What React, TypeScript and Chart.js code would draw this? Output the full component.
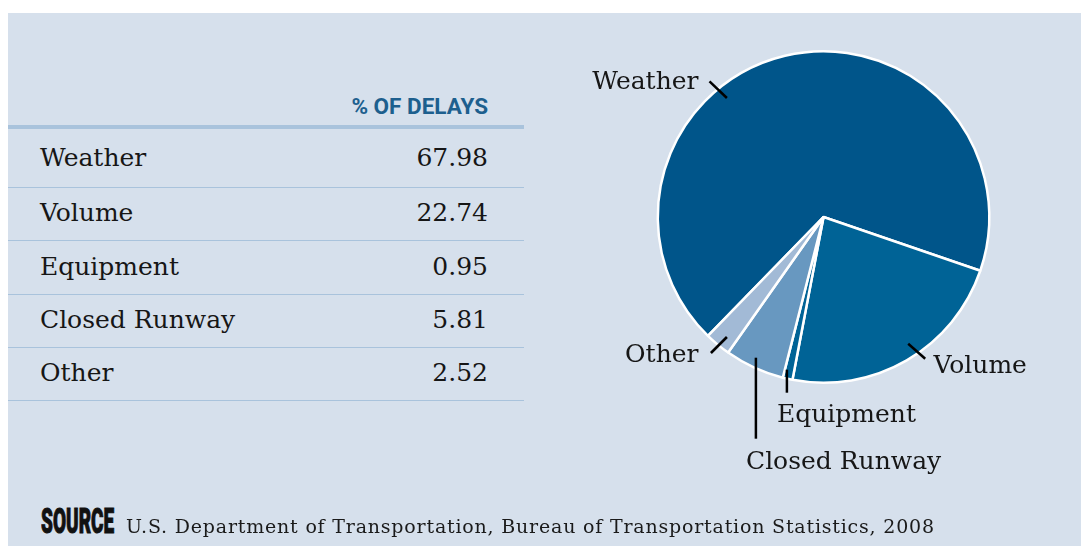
import React, { useEffect, useRef } from "react";
import { Chart, registerables } from "chart.js";

Chart.register(...registerables);

// ---------- data ----------
const categories = ["Weather", "Volume", "Equipment", "Closed Runway", "Other"];
const delayShares = [67.98, 22.74, 0.95, 5.81, 2.52];
const valueLabels = ["67.98", "22.74", "0.95", "5.81", "2.52"];
const sliceColors = ["#00558a", "#006396", "#006396", "#6898c0", "#a2bad6"];
const headerLabel = "% OF DELAYS";
const sourceLabel = "SOURCE";
const sourceText =
  "U.S. Department of Transportation, Bureau of Transportation Statistics, 2008";

// ---------- layout / style ----------
const BG = "#d6e0ec";
const RULE = "#a9c3dc";
const SERIF = '"DejaVu Serif", serif';
const rowCenters = [157.5, 212.5, 266.5, 319.5, 372.5];
const rowRules = [187, 240, 294, 347, 400];

// label placement relative to pie centre, in px for a radius of 167
const labelLayout = [
  { tx: -125, ty: -137, align: "right", line: [-114, -135.6, -96.6, -119] },
  { tx: 110, ty: 147, align: "left", line: [84.7, 126.7, 101.7, 141.7] },
  { tx: -46.5, ty: 196, align: "left", line: [-36.6, 152.7, -36.6, 175.7] },
  { tx: -77.5, ty: 243, align: "left", line: [-67.6, 140.7, -67.6, 221.7] },
  { tx: -125, ty: 136, align: "right", line: [-112.6, 136, -96.6, 120] },
];

const calloutPlugin = {
  id: "callouts",
  afterDraw(chart: any) {
    const meta = chart.getDatasetMeta(0);
    const arc = meta.data[0];
    if (!arc) return;
    const cx = arc.x;
    const cy = arc.y;
    const k = (arc.outerRadius + 1.25) / 167;
    const ctx = chart.ctx;
    ctx.save();
    ctx.strokeStyle = "#000";
    ctx.lineWidth = 2.5;
    ctx.fillStyle = "#161616";
    ctx.font = `25px ${SERIF}`;
    ctx.textBaseline = "alphabetic";
    labelLayout.forEach((l, i) => {
      const [x1, y1, x2, y2] = l.line;
      ctx.beginPath();
      ctx.moveTo(cx + x1 * k, cy + y1 * k);
      ctx.lineTo(cx + x2 * k, cy + y2 * k);
      ctx.stroke();
      ctx.textAlign = l.align as CanvasTextAlign;
      ctx.fillText(categories[i], cx + l.tx * k, cy + l.ty * k + 9);
    });
    ctx.restore();
  },
};

function PieChart() {
  const ref = useRef<HTMLCanvasElement | null>(null);
  useEffect(() => {
    if (!ref.current) return;
    const chart = new Chart(ref.current, {
      type: "pie",
      data: {
        labels: categories,
        datasets: [
          {
            data: delayShares,
            backgroundColor: sliceColors,
            borderColor: "#ffffff",
            borderWidth: 2.5,
          },
        ],
      },
      options: {
        animation: false,
        responsive: true,
        maintainAspectRatio: false,
        rotation: -135.8,
        layout: { padding: { left: 96.5, right: 90.5, top: 37, bottom: 162 } },
        plugins: {
          legend: { display: false },
          tooltip: { enabled: false },
        },
      },
      plugins: [calloutPlugin],
    });
    return () => chart.destroy();
  }, []);
  return <canvas ref={ref} />;
}

export default function App() {
  const abs = (s: React.CSSProperties): React.CSSProperties => ({ position: "absolute", ...s });
  const rowText: React.CSSProperties = {
    font: `25px ${SERIF}`,
    lineHeight: "30px",
    color: "#161616",
    whiteSpace: "nowrap",
  };
  return (
    <div
      style={abs({ left: 0, top: 0, width: 1081, height: 546, background: "#fff", overflow: "hidden" })}
    >
      <div style={abs({ left: 8, top: 13, width: 1073, height: 533, background: BG })} />
      {/* header */}
      <div
        style={abs({
          left: 300,
          top: 91,
          width: 188,
          textAlign: "right",
          font: `700 22.5px Roboto, sans-serif`,
          lineHeight: "30px",
          color: "#1d5f8e",
          whiteSpace: "nowrap",
        })}
      >
        {headerLabel}
      </div>
      <div style={abs({ left: 8, top: 125, width: 516, height: 4, background: RULE })} />
      {categories.map((c, i) => (
        <React.Fragment key={c}>
          <div style={abs({ left: 40, top: rowCenters[i] - 14.5, ...rowText })}>{c}</div>
          <div
            style={abs({
              left: 300,
              width: 188,
              textAlign: "right",
              top: rowCenters[i] - 14.5,
              ...rowText,
            })}
          >
            {valueLabels[i]}
          </div>
          <div style={abs({ left: 8, top: rowRules[i], width: 516, height: 1, background: RULE })} />
        </React.Fragment>
      ))}
      {/* pie */}
      <div style={abs({ left: 560, top: 13, width: 521, height: 533 })}>
        <PieChart />
      </div>
      {/* source */}
      <div
        style={abs({
          left: 41,
          top: 500.5,
          font: `900 34.6px Roboto, sans-serif`,
          lineHeight: "40px",
          color: "#111",
          transform: "scaleX(0.55)",
          transformOrigin: "left top",
          WebkitTextStroke: "1px #111",
          whiteSpace: "nowrap",
        })}
      >
        {sourceLabel}
      </div>
      <div
        style={abs({
          left: 126,
          top: 510.5,
          font: `19px ${SERIF}`,
          letterSpacing: "0.8px",
          lineHeight: "30px",
          color: "#1a1a1a",
          whiteSpace: "nowrap",
        })}
      >
        {sourceText}
      </div>
    </div>
  );
}
